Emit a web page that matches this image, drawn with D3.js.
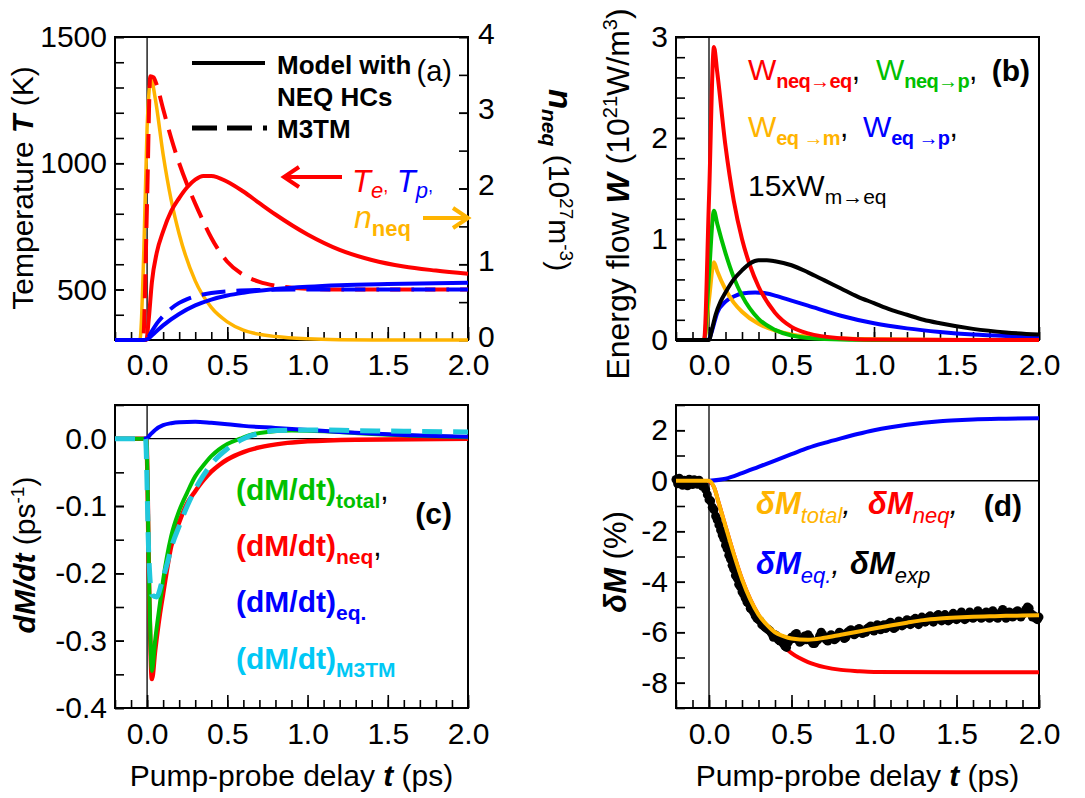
<!DOCTYPE html>
<html>
<head>
<meta charset="utf-8">
<script src="https://cdn.jsdelivr.net/npm/d3@7"></script>
<style>
  body { margin: 0; background: #fff; }
  svg { display: block; }
  text { font-family: "Liberation Sans", Arial, sans-serif; }
</style>
</head>
<body>
<svg id="fig" width="1085" height="798"></svg>
<script>
// ---------- shared time axis ----------
const tDomain = [-0.2, 2.0];
const tMajor = [0.0, 0.5, 1.0, 1.5, 2.0];
const tMinor = d3.range(-2, 21).map(i => i / 10);

// ---------- (a) temperatures (K) and NEQ carrier density (10^27 m^-3) ----------
const tempTicks = [500, 1000, 1500];
const tempMinor = d3.range(3, 16).map(i => i * 100);
const nTicks = [0, 1, 2, 3, 4];
const nMinor = d3.range(0, 9).map(i => i / 2);

const teModel = [[-0.2,300],[-0.005,300],[0.01,380],[0.03,530],[0.06,645],[0.1,730],[0.15,810],
  [0.2,862],[0.25,905],[0.3,935],[0.35,950],[0.4,950],[0.5,927],[0.6,888],[0.7,842],[0.8,797],
  [1.0,718],[1.2,657],[1.4,617],[1.6,591],[1.8,575],[2.0,562]];
const teM3TM = [[-0.2,300],[-0.025,300],[0.0,850],[0.02,1345],[0.04,1340],[0.06,1310],[0.1,1215],
  [0.15,1100],[0.2,1000],[0.25,915],[0.3,840],[0.35,770],[0.4,705],[0.45,652],[0.5,610],[0.6,558],
  [0.7,530],[0.8,515],[0.9,507],[1.0,503],[1.2,500],[2.0,500]];
const tpModel = [[-0.2,300],[-0.02,300],[0.0,303],[0.05,330],[0.1,358],[0.2,403],[0.3,437],
  [0.4,460],[0.5,476],[0.6,487],[0.8,502],[1.0,511],[1.2,517],[1.5,522],[2.0,527]];
const tpM3TM = [[-0.2,300],[-0.02,300],[0.0,305],[0.03,335],[0.06,365],[0.1,395],[0.15,425],
  [0.2,447],[0.25,462],[0.3,473],[0.4,486],[0.5,493],[0.7,498],[1.0,500],[2.0,500]];
const nNeq = [[-0.2,0],[-0.045,0],[-0.02,1.2],[0.0,2.8],[0.025,3.45],[0.05,3.2],[0.1,2.45],
  [0.15,1.85],[0.2,1.4],[0.3,0.78],[0.4,0.43],[0.5,0.24],[0.6,0.13],[0.7,0.075],[0.8,0.045],
  [1.0,0.015],[1.2,0.004],[1.5,0],[2.0,0]];

// ---------- (b) energy flows (10^21 W/m^3) ----------
const wTicks = [0, 1, 2, 3];
const wMinor = d3.range(0, 16).map(i => i / 5);

const wNeqEq = [[-0.2,0],[-0.03,0],[0.0,1.4],[0.03,2.9],[0.05,2.65],[0.1,1.92],[0.15,1.38],
  [0.2,1.0],[0.25,0.73],[0.3,0.53],[0.4,0.27],[0.5,0.13],[0.6,0.065],[0.8,0.017],[1.0,0.004],
  [1.5,0],[2.0,0]];
const wNeqP = [[-0.2,0],[-0.03,0],[0.0,0.65],[0.03,1.28],[0.05,1.15],[0.1,0.86],[0.15,0.62],
  [0.2,0.44],[0.3,0.21],[0.4,0.1],[0.5,0.045],[0.7,0.01],[1.0,0],[2.0,0]];
const wEqM = [[-0.2,0],[-0.03,0],[0.0,0.4],[0.03,0.77],[0.05,0.68],[0.1,0.5],[0.15,0.37],
  [0.2,0.28],[0.3,0.16],[0.4,0.095],[0.5,0.055],[0.7,0.022],[1.0,0.008],[1.5,0.002],[2.0,0]];
const wEqP = [[0.0,0],[0.02,0.1],[0.05,0.27],[0.1,0.38],[0.15,0.43],[0.2,0.46],[0.28,0.47],
  [0.35,0.46],[0.4,0.44],[0.5,0.39],[0.6,0.34],[0.8,0.24],[1.0,0.165],[1.2,0.115],[1.4,0.08],
  [1.6,0.055],[1.8,0.04],[2.0,0.03]];
const wMEq15 = [[-0.2,0],[0.0,0],[0.02,0.12],[0.04,0.25],[0.07,0.38],[0.1,0.47],[0.15,0.6],
  [0.2,0.69],[0.25,0.76],[0.3,0.79],[0.35,0.79],[0.4,0.78],[0.5,0.74],[0.6,0.67],[0.7,0.59],
  [0.8,0.51],[0.9,0.43],[1.0,0.365],[1.1,0.3],[1.2,0.25],[1.3,0.2],[1.4,0.165],[1.6,0.11],
  [1.8,0.075],[2.0,0.055]];

// ---------- (c) demagnetization rates (ps^-1) ----------
const rateTicks = [-0.4, -0.3, -0.2, -0.1, 0.0];
const rateMinor = d3.range(-8, 2).map(i => i / 20);

const dmNeq = [[-0.2,0],[-0.005,0],[0.015,-0.25],[0.03,-0.357],[0.05,-0.315],[0.08,-0.26],
  [0.1,-0.23],[0.15,-0.16],[0.2,-0.124],[0.25,-0.096],[0.3,-0.078],[0.35,-0.062],[0.4,-0.049],
  [0.45,-0.039],[0.5,-0.031],[0.6,-0.02],[0.7,-0.013],[0.85,-0.007],[1.0,-0.004],[1.3,-0.0015],[2.0,0]];
const dmTotal = [[-0.2,0],[-0.005,0],[0.015,-0.24],[0.03,-0.345],[0.05,-0.3],[0.08,-0.245],
  [0.1,-0.21],[0.15,-0.145],[0.2,-0.107],[0.25,-0.08],[0.3,-0.056],[0.35,-0.04],[0.4,-0.026],
  [0.5,-0.008],[0.58,0.0],[0.65,0.006],[0.75,0.01],[0.9,0.012],[1.1,0.011],[1.4,0.007],
  [1.7,0.004],[2.0,0.002]];
const dmEq = [[-0.02,0],[0.0,0.001],[0.02,0.006],[0.05,0.013],[0.1,0.02],[0.15,0.023],
  [0.2,0.0245],[0.3,0.025],[0.4,0.0235],[0.5,0.0215],[0.6,0.019],[0.8,0.016],[1.0,0.013],
  [1.2,0.01],[1.4,0.0075],[1.6,0.0055],[1.8,0.004],[2.0,0.003]];
const dmM3TM = [[-0.2,0],[-0.01,0],[0.01,-0.17],[0.03,-0.232],[0.06,-0.235],[0.09,-0.215],
  [0.12,-0.19],[0.16,-0.155],[0.2,-0.13],[0.25,-0.1],[0.3,-0.075],[0.35,-0.055],[0.4,-0.038],
  [0.5,-0.015],[0.6,0.0],[0.7,0.008],[0.8,0.012],[1.0,0.013],[1.3,0.012],[1.6,0.011],[2.0,0.01]];

// ---------- (d) magnetization change (%) ----------
const dmagTicks = [-8, -6, -4, -2, 0, 2];
const dmagMinor = d3.range(-9, 4);

const dMTotal = [[-0.2,0],[0.0,0],[0.03,-0.25],[0.06,-0.9],[0.1,-1.8],[0.15,-2.9],[0.2,-3.9],
  [0.25,-4.7],[0.3,-5.3],[0.35,-5.7],[0.4,-6.0],[0.45,-6.15],[0.5,-6.25],[0.6,-6.3],[0.7,-6.22],
  [0.8,-6.1],[0.9,-5.98],[1.0,-5.85],[1.1,-5.73],[1.2,-5.62],[1.3,-5.52],[1.4,-5.46],[1.5,-5.42],
  [1.6,-5.39],[1.7,-5.37],[1.8,-5.35],[1.9,-5.34],[2.0,-5.33]];
const dMNeq = [[0.0,0],[0.03,-0.25],[0.06,-0.9],[0.1,-1.8],[0.15,-2.9],[0.2,-3.9],[0.25,-4.7],
  [0.3,-5.32],[0.35,-5.82],[0.4,-6.22],[0.45,-6.55],[0.5,-6.83],[0.6,-7.18],[0.7,-7.38],
  [0.8,-7.49],[0.9,-7.54],[1.0,-7.57],[1.5,-7.58],[2.0,-7.58]];
const dMEq = [[0.0,0],[0.1,0.08],[0.2,0.3],[0.3,0.55],[0.4,0.8],[0.5,1.05],[0.6,1.3],[0.7,1.5],
  [0.8,1.68],[0.9,1.85],[1.0,2.0],[1.1,2.12],[1.2,2.22],[1.3,2.3],[1.4,2.36],[1.5,2.4],
  [1.6,2.43],[1.8,2.46],[2.0,2.48]];
// measured delta M (%), one sample every 10 fs
const dMExp = [[-0.20,0.05],[-0.19,-0.12],[-0.18,0.1],[-0.17,-0.05],[-0.16,-0.18],[-0.15,0.02],
  [-0.14,-0.1],[-0.13,-0.2],[-0.12,0.06],[-0.11,-0.08],[-0.10,-0.15],[-0.09,0.04],[-0.08,-0.06],
  [-0.07,-0.14],[-0.06,0.02],[-0.05,-0.12],[-0.04,-0.22],[-0.03,-0.18],[-0.02,-0.35],[-0.01,-0.55],
  [0.00,-0.75],[0.01,-0.8],[0.02,-1.05],[0.03,-1.15],[0.04,-1.4],[0.05,-1.55],[0.06,-1.75],
  [0.07,-1.95],[0.08,-2.15],[0.09,-2.3],[0.10,-2.55],[0.11,-2.7],[0.12,-2.95],[0.13,-3.1],
  [0.14,-3.35],[0.15,-3.5],[0.16,-3.75],[0.17,-3.85],[0.18,-4.1],[0.19,-4.2],[0.20,-4.4],
  [0.21,-4.5],[0.22,-4.65],[0.23,-4.8],[0.24,-4.85],[0.25,-5.05],[0.26,-5.1],[0.27,-5.2],
  [0.28,-5.35],[0.29,-5.45],[0.30,-5.5],[0.31,-5.55],[0.32,-5.7],[0.33,-5.75],[0.34,-5.8],
  [0.35,-5.85],[0.36,-5.9],[0.37,-5.95],[0.38,-6.05],[0.39,-6.2],[0.40,-6.1],[0.41,-6.15],
  [0.42,-6.3],[0.43,-6.35],[0.44,-6.25],[0.45,-6.45],[0.46,-6.55],[0.47,-6.6],[0.48,-6.4],
  [0.49,-6.3],[0.50,-6.2],[0.51,-6.25],[0.52,-6.1],[0.53,-6.05],[0.54,-6.3],[0.55,-6.4],
  [0.56,-6.35],[0.57,-6.25],[0.58,-6.15],[0.59,-6.3],[0.60,-6.1],[0.61,-6.2],[0.62,-6.35],
  [0.63,-6.45],[0.64,-6.45],[0.65,-6.35],[0.66,-6.3],[0.67,-6.15],[0.68,-6.0],[0.69,-6.1],
  [0.70,-6.2],[0.71,-6.3],[0.72,-6.35],[0.73,-6.2],[0.74,-6.1],[0.75,-6.15],[0.76,-6.3],
  [0.77,-6.25],[0.78,-6.15],[0.79,-6.0],[0.80,-6.05],[0.81,-6.15],[0.82,-6.25],[0.83,-6.2],
  [0.84,-6.0],[0.85,-5.95],[0.86,-5.9],[0.87,-6.05],[0.88,-6.1],[0.89,-6.05],[0.90,-5.9],
  [0.91,-5.85],[0.92,-5.95],[0.93,-6.05],[0.94,-5.95],[0.95,-6.0],[0.96,-5.85],[0.97,-5.8],
  [0.98,-5.75],[0.99,-5.9],[1.00,-5.95],[1.01,-5.8],[1.02,-5.7],[1.03,-5.85],[1.04,-5.9],
  [1.05,-5.75],[1.06,-5.7],[1.07,-5.85],[1.08,-5.8],[1.09,-5.65],[1.10,-5.6],[1.11,-5.75],
  [1.12,-5.85],[1.13,-5.8],[1.14,-5.65],[1.15,-5.55],[1.16,-5.6],[1.17,-5.75],[1.18,-5.7],
  [1.19,-5.6],[1.20,-5.5],[1.21,-5.55],[1.22,-5.7],[1.23,-5.65],[1.24,-5.5],[1.25,-5.45],
  [1.26,-5.6],[1.27,-5.7],[1.28,-5.55],[1.29,-5.4],[1.30,-5.45],[1.31,-5.6],[1.32,-5.55],
  [1.33,-5.4],[1.34,-5.35],[1.35,-5.5],[1.36,-5.6],[1.37,-5.5],[1.38,-5.35],[1.39,-5.3],
  [1.40,-5.45],[1.41,-5.55],[1.42,-5.45],[1.43,-5.3],[1.44,-5.4],[1.45,-5.55],[1.46,-5.5],
  [1.47,-5.35],[1.48,-5.25],[1.49,-5.4],[1.50,-5.5],[1.51,-5.45],[1.52,-5.3],[1.53,-5.2],
  [1.54,-5.35],[1.55,-5.5],[1.56,-5.45],[1.57,-5.3],[1.58,-5.2],[1.59,-5.35],[1.60,-5.45],
  [1.61,-5.4],[1.62,-5.25],[1.63,-5.15],[1.64,-5.3],[1.65,-5.45],[1.66,-5.4],[1.67,-5.25],
  [1.68,-5.2],[1.69,-5.35],[1.70,-5.45],[1.71,-5.3],[1.72,-5.15],[1.73,-5.25],[1.74,-5.4],
  [1.75,-5.45],[1.76,-5.3],[1.77,-5.2],[1.78,-5.1],[1.79,-5.3],[1.80,-5.45],[1.81,-5.35],
  [1.82,-5.2],[1.83,-5.25],[1.84,-5.4],[1.85,-5.35],[1.86,-5.2],[1.87,-5.15],[1.88,-5.3],
  [1.89,-5.4],[1.90,-5.3],[1.91,-5.2],[1.92,-5.1],[1.93,-5.0],[1.94,-5.05],[1.95,-5.25],
  [1.96,-5.4],[1.97,-5.35],[1.98,-5.45],[1.99,-5.5],[2.00,-5.4]];

// ---------- colours ----------
const RED = "#ff0000", BLUE = "#0000ff", GREEN = "#00c000", ORANGE = "#ffb400",
      CYAN = "#20c8dc", CYANTXT = "#00c8f5", BLACK = "#000000";

const svg = d3.select("#fig");
const FONT = 30;

// text with sub/superscripts: each part may carry size, weight, style, fill, shift (px, down +)
function rich(parent, x, y, parts, opt = {}) {
  const t = parent.append("text")
    .attr("x", x).attr("y", y)
    .attr("text-anchor", opt.anchor || "start")
    .attr("font-size", opt.size || FONT)
    .attr("fill", opt.fill || BLACK);
  if (opt.transform) t.attr("transform", opt.transform);
  let cur = 0;
  parts.forEach(p => {
    if (typeof p === "string") p = { text: p };
    const s = t.append("tspan").text(p.text);
    const sh = p.shift || 0;
    if (sh !== cur) { s.attr("dy", sh - cur); cur = sh; }
    if (p.size) s.attr("font-size", p.size);
    if (p.weight) s.attr("font-weight", p.weight);
    if (p.style) s.attr("font-style", p.style);
    if (p.fill) s.attr("fill", p.fill);
    if (p.spacing) s.attr("letter-spacing", p.spacing);
  });
  return t;
}

function styleAxis(g) {
  g.select(".domain").remove();
  g.selectAll(".tick line").attr("stroke", BLACK).attr("stroke-width", 1.6);
  g.selectAll(".tick text").attr("font-size", FONT).attr("fill", BLACK)
    .attr("font-family", '"Liberation Sans", Arial, sans-serif');
  g.attr("font-family", null);
}

// builds one framed panel and returns its scales and drawing group
function makePanel(box, yDomain, yMajor, yMinor, yFormat, opts = {}) {
  const g = svg.append("g");
  const x = d3.scaleLinear().domain(tDomain).range([box.x0, box.x1]);
  const y = d3.scaleLinear().domain(yDomain).range([box.y1, box.y0]);

  // bottom time ticks (inward)
  g.append("g").attr("transform", `translate(0,${box.y1})`)
    .call(d3.axisBottom(x).tickValues(tMinor).tickSizeInner(-8).tickSizeOuter(0).tickFormat(""))
    .call(styleAxis);
  g.append("g").attr("transform", `translate(0,${box.y1})`)
    .call(d3.axisBottom(x).tickValues(tMajor).tickSizeInner(-13).tickSizeOuter(0)
      .tickPadding(opts.xPad || 14).tickFormat(d => d.toFixed(1)))
    .call(styleAxis);

  // left value ticks (inward)
  g.append("g").attr("transform", `translate(${box.x0},0)`)
    .call(d3.axisLeft(y).tickValues(yMinor).tickSizeInner(-9).tickSizeOuter(0).tickFormat(""))
    .call(styleAxis);
  g.append("g").attr("transform", `translate(${box.x0},0)`)
    .call(d3.axisLeft(y).tickValues(yMajor).tickSizeInner(-9).tickSizeOuter(0)
      .tickPadding(8).tickFormat(yFormat))
    .call(styleAxis);

  // frame and the t = 0 marker
  g.append("rect").attr("x", box.x0).attr("y", box.y0)
    .attr("width", box.x1 - box.x0).attr("height", box.y1 - box.y0)
    .attr("fill", "none").attr("stroke", BLACK).attr("stroke-width", 2);
  g.append("line").attr("x1", x(0)).attr("x2", x(0)).attr("y1", box.y0).attr("y2", box.y1)
    .attr("stroke", BLACK).attr("stroke-width", 1.3);
  if (opts.zeroLine) {
    g.append("line").attr("x1", x(0)).attr("x2", x(2.0)).attr("y1", y(0)).attr("y2", y(0))
      .attr("stroke", BLACK).attr("stroke-width", 1.3);
  }
  return { g, x, y };
}

function curve(P, data, color, width, dash, yScale) {
  const ys = yScale || P.y;
  const line = d3.line().x(d => P.x(d[0])).y(d => ys(d[1])).curve(d3.curveMonotoneX);
  const path = P.g.append("path").datum(data).attr("d", line)
    .attr("fill", "none").attr("stroke", color).attr("stroke-width", width)
    .attr("stroke-linejoin", "round");
  if (dash) path.attr("stroke-dasharray", dash);
  return path;
}

function arrow(g, x1, x2, y, color) {
  const dir = Math.sign(x2 - x1);
  g.append("line").attr("x1", x1).attr("x2", x2 - dir * 2).attr("y1", y).attr("y2", y)
    .attr("stroke", color).attr("stroke-width", 4);
  g.append("path")
    .attr("d", `M${x2 - dir * 15},${y - 10} L${x2},${y} L${x2 - dir * 15},${y + 10}`)
    .attr("fill", "none").attr("stroke", color).attr("stroke-width", 4)
    .attr("stroke-linejoin", "miter");
}

const boxA = { x0: 115, x1: 468, y0: 37, y1: 340 };
const boxB = { x0: 676, x1: 1039, y0: 37, y1: 340 };
const boxC = { x0: 115, x1: 468, y0: 405, y1: 708 };
const boxD = { x0: 676, x1: 1039, y0: 405, y1: 708 };

// ===== (a) =====
const A = makePanel(boxA, [300, 1500], tempTicks, tempMinor, d => String(d));
const yN = d3.scaleLinear().domain([0, 4]).range([boxA.y1, boxA.y0]);
A.g.append("g").attr("transform", `translate(${boxA.x1},0)`)
  .call(d3.axisRight(yN).tickValues(nMinor).tickSizeInner(-9).tickSizeOuter(0).tickFormat(""))
  .call(styleAxis);
A.g.append("g").attr("transform", `translate(${boxA.x1},0)`)
  .call(d3.axisRight(yN).tickValues(nTicks).tickSizeInner(-9).tickSizeOuter(0)
    .tickPadding(10).tickFormat(d => String(d)))
  .call(styleAxis)
  .call(g => g.selectAll(".tick text").attr("dy", "0.2em"));

curve(A, nNeq, ORANGE, 3.5, null, yN);
curve(A, teM3TM, RED, 4, "24,11");
curve(A, teModel, RED, 4);
curve(A, tpM3TM, BLUE, 4, "24,11");
curve(A, tpModel, BLUE, 4);

// legend
A.g.append("line").attr("x1", 192).attr("x2", 265).attr("y1", 63).attr("y2", 63)
  .attr("stroke", BLACK).attr("stroke-width", 4);
A.g.append("line").attr("x1", 192).attr("x2", 267).attr("y1", 128).attr("y2", 128)
  .attr("stroke", BLACK).attr("stroke-width", 5).attr("stroke-dasharray", "25,10,25,11,4,100");
rich(A.g, 277, 74, [{ text: "Model with", weight: "bold" }], { size: 26 });
rich(A.g, 277, 106, [{ text: "NEQ HCs", weight: "bold" }], { size: 26 });
rich(A.g, 277, 138, [{ text: "M3TM", weight: "bold" }], { size: 26 });
rich(A.g, 452, 81, ["(a)"], { anchor: "end", size: 29 });

arrow(A.g, 342, 284, 177, RED);
rich(A.g, 352, 192, [
  { text: "T", style: "italic", fill: RED, size: 31 },
  { text: "e", style: "italic", fill: RED, size: 22, shift: 6 },
  { text: ",", fill: RED, size: 18, shift: 0 },
  { text: "  T", style: "italic", fill: BLUE, size: 31 },
  { text: "p", style: "italic", fill: BLUE, size: 22, shift: 6 },
  { text: ",", fill: BLUE, size: 18, shift: 0 }
]);
rich(A.g, 354, 228, [
  { text: "n", style: "italic", fill: ORANGE, size: 32 },
  { text: "neq", weight: "bold", fill: ORANGE, size: 22, shift: 8 }
]);
arrow(A.g, 423, 468, 218, ORANGE);

// axis titles
rich(svg, 0, 0, ["Temperature ", { text: "T", weight: "bold", style: "italic" }, " (K)"],
  { anchor: "middle", size: 30, transform: "translate(33,188) rotate(-90)" });
rich(svg, 0, 0, [
  { text: "n", weight: "bold", style: "italic", size: 33 },
  { text: "neq", weight: "bold", style: "italic", size: 21, shift: 7 },
  { text: " (10", shift: 0 },
  { text: "27", size: 19, shift: -11 },
  { text: "m", shift: 0 },
  { text: "-3", size: 19, shift: -11 },
  { text: ")", shift: 0 }
], { anchor: "middle", size: 30, transform: "translate(549,180) rotate(90)" });

// ===== (b) =====
const B = makePanel(boxB, [0, 3], wTicks, wMinor, d => String(d));
curve(B, wEqP, BLUE, 4);
curve(B, wEqM, ORANGE, 4);
curve(B, wNeqP, GREEN, 4);
curve(B, wNeqEq, RED, 4);
curve(B, wMEq15, BLACK, 4);

const subB = { size: 20, weight: "bold", shift: 8, spacing: -0.6 };
rich(B.g, 748, 80, [
  { text: "W", fill: RED }, { ...subB, text: "neq→eq", fill: RED }, { text: ",", fill: BLACK, shift: 0 }
], { size: 30 });
rich(B.g, 876, 80, [
  { text: "W", fill: GREEN }, { ...subB, text: "neq→p", fill: GREEN }, { text: ",", fill: BLACK, shift: 0 }
], { size: 30 });
rich(B.g, 1030, 81, [{ text: "(b)", weight: "bold" }], { anchor: "end", size: 30 });
rich(B.g, 748, 137, [
  { text: "W", fill: ORANGE }, { ...subB, text: "eq →m", fill: ORANGE }, { text: ",", fill: BLACK, shift: 0 }
], { size: 30 });
rich(B.g, 863, 137, [
  { text: "W", fill: BLUE }, { ...subB, text: "eq →p", fill: BLUE }, { text: ",", fill: BLACK, shift: 0 }
], { size: 30 });
rich(B.g, 748, 196, [
  { text: "15xW" }, { text: "m→eq", size: 21, shift: 8 }
], { size: 30 });

rich(svg, 0, 0, [
  "Energy flow ", { text: "W", weight: "bold", style: "italic" }, "  (10",
  { text: "21", size: 20, shift: -12 }, { text: "W/m", shift: 0 },
  { text: "3", size: 20, shift: -12 }, { text: ")", shift: 0 }
], { anchor: "middle", size: 32, transform: "translate(629,194) rotate(-90)" });

// ===== (c) =====
const C = makePanel(boxC, [-0.4, 0.05], rateTicks, rateMinor, d => d.toFixed(1),
  { zeroLine: true, xPad: 15 });
curve(C, dmNeq, RED, 4.5);
curve(C, dmTotal, GREEN, 4);
curve(C, dmEq, BLUE, 4);
curve(C, dmM3TM, CYAN, 5, "20,11");

const subC = { size: 21, weight: "bold", shift: 8 };
rich(C.g, 236, 500, [{ text: "(dM/dt)", weight: "bold" }, { ...subC, text: "total" },
  { text: ",", shift: 0, fill: BLACK }], { size: 30, fill: GREEN });
rich(C.g, 236, 556, [{ text: "(dM/dt)", weight: "bold" }, { ...subC, text: "neq" },
  { text: ",", shift: 0, fill: BLACK }], { size: 30, fill: RED });
rich(C.g, 236, 612, [{ text: "(dM/dt)", weight: "bold" }, { ...subC, text: "eq." }],
  { size: 30, fill: BLUE });
rich(C.g, 236, 669, [{ text: "(dM/dt)", weight: "bold" }, { ...subC, text: "M3TM" }],
  { size: 30, fill: CYANTXT });
rich(C.g, 452, 524, [{ text: "(c)", weight: "bold" }], { anchor: "end", size: 30 });

rich(svg, 0, 0, [{ text: "dM/dt", weight: "bold", style: "italic" }, " (ps",
  { text: "-1", size: 19, shift: -11 }, { text: ")", shift: 0 }],
  { anchor: "middle", size: 30, transform: "translate(35,555) rotate(-90)" });
rich(svg, (boxC.x0 + boxC.x1) / 2, 786,
  ["Pump-probe delay ", { text: "t", weight: "bold", style: "italic" }, " (ps)"],
  { anchor: "middle", size: 30 });

// ===== (d) =====
const D = makePanel(boxD, [-9, 3], dmagTicks, dmagMinor, d => String(d),
  { zeroLine: true, xPad: 15 });
curve(D, dMEq, BLUE, 4);
curve(D, dMNeq, RED, 4);
D.g.append("g").selectAll("circle").data(dMExp).join("circle")
  .attr("cx", d => D.x(d[0])).attr("cy", d => D.y(d[1])).attr("r", 4.5).attr("fill", BLACK);
curve(D, dMTotal, ORANGE, 4);

const subD = { size: 22, style: "italic", shift: 9 };
rich(D.g, 756, 514, [{ text: "δM", weight: "bold", style: "italic" }, { ...subD, text: "total" },
  { text: ",", shift: 0, fill: BLACK, style: "italic" }], { size: 31, fill: ORANGE });
rich(D.g, 868, 514, [{ text: "δM", weight: "bold", style: "italic" }, { ...subD, text: "neq" },
  { text: ",", shift: 0, fill: BLACK, style: "italic" }], { size: 31, fill: RED });
rich(D.g, 1022, 516, [{ text: "(d)", weight: "bold" }], { anchor: "end", size: 30 });
rich(D.g, 756, 574, [{ text: "δM", weight: "bold", style: "italic" }, { ...subD, text: "eq." },
  { text: ",", shift: 0, fill: BLACK, style: "italic" }], { size: 31, fill: BLUE });
rich(D.g, 850, 574, [{ text: "δM", weight: "bold", style: "italic" }, { ...subD, text: "exp" }],
  { size: 31, fill: BLACK });

rich(svg, 0, 0, [{ text: "δM", weight: "bold", style: "italic" }, " (%)"],
  { anchor: "middle", size: 31, transform: "translate(626,562) rotate(-90)" });
rich(svg, (boxD.x0 + boxD.x1) / 2, 786,
  ["Pump-probe delay ", { text: "t", weight: "bold", style: "italic" }, " (ps)"],
  { anchor: "middle", size: 30 });
</script>
</body>
</html>
